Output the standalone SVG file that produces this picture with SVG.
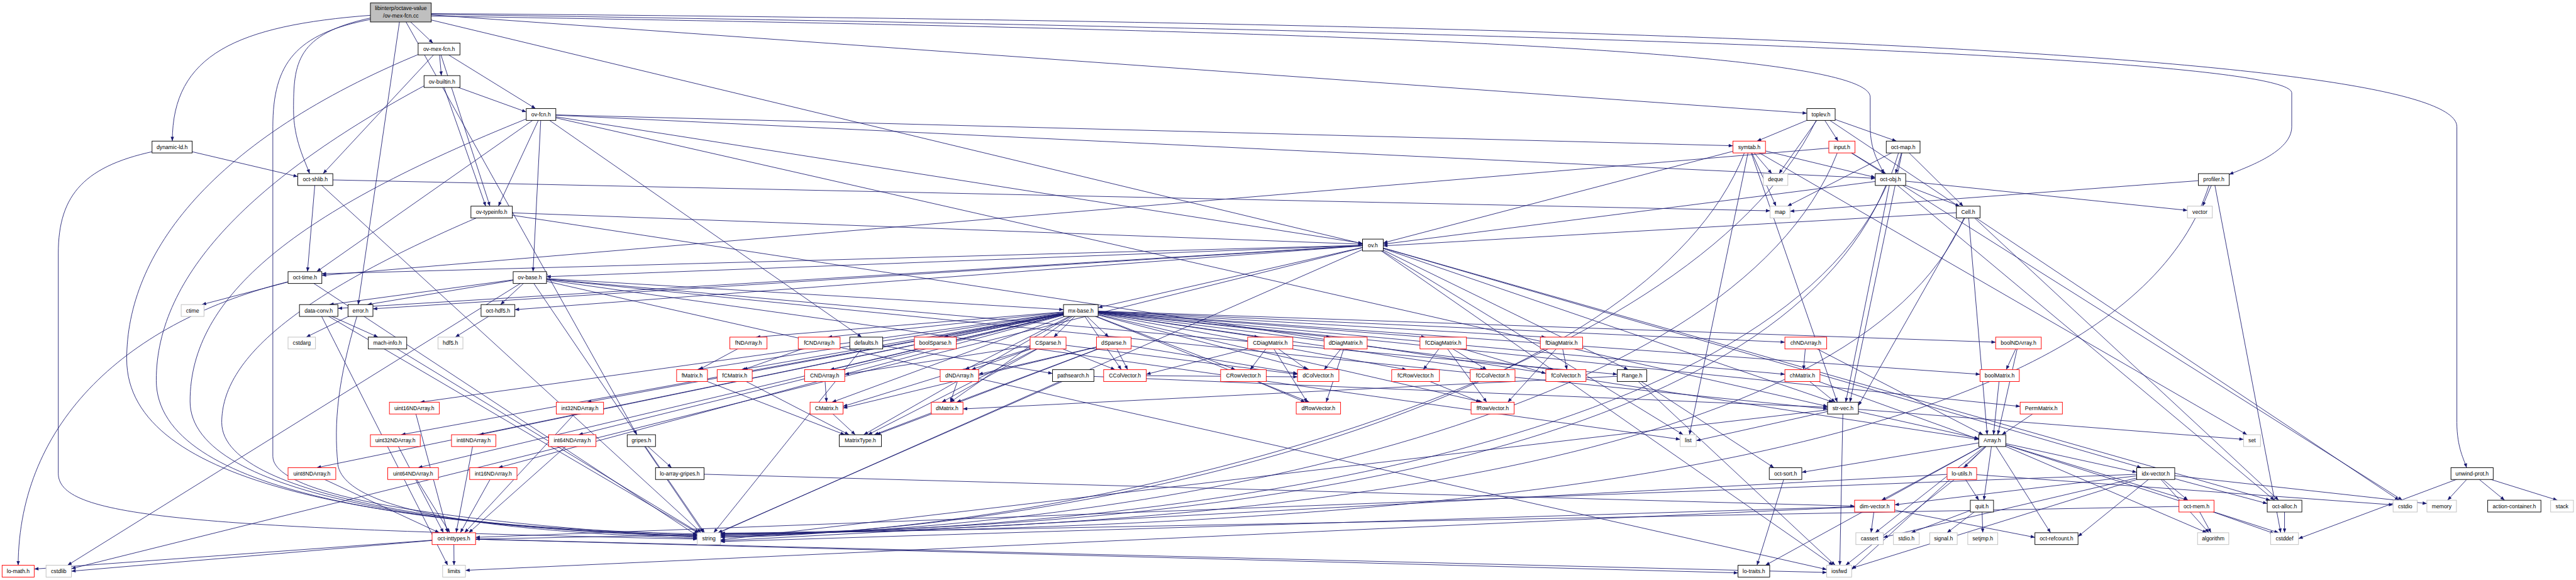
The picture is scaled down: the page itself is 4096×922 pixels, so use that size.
<svg xmlns="http://www.w3.org/2000/svg" width="4096" height="922" viewBox="0 0 4096 922">
<style>
.n rect{fill:#fff;stroke:#000;stroke-width:1.4}
.n.r rect{stroke:#ff0000}
.n.g rect{stroke:#bfbfbf}
#n-root rect{fill:#bfbfbf}
text{font-family:"Liberation Sans",Arial,Helvetica,sans-serif;font-size:13px;text-anchor:middle;fill:#000}
#connectors line,#connectors path{stroke:#191970;stroke-width:1.3;fill:none;marker-end:url(#a)}
</style>
<defs>
<marker id="a" viewBox="0 0 10 8" refX="10" refY="4" markerWidth="11" markerHeight="8" markerUnits="userSpaceOnUse" orient="auto"><path d="M0,0 L10,4 L0,8 z" fill="#191970"/></marker>
</defs>
<rect width="4096" height="922" fill="#fff"/>
<g transform="scale(0.67158)">
<g id="connectors">
<path d="M880,36 C560,60 408,130 408,334"/>
<line x1="949" y1="30" x2="1025" y2="102"/>
<path d="M880,42 C700,80 695,150 695,260 C695,330 722,380 733,411"/>
<line x1="949" y1="30" x2="848" y2="721"/>
<line x1="949" y1="30" x2="1508" y2="1029"/>
<line x1="949" y1="30" x2="3226" y2="577"/>
<path d="M1021,38 C3000,70 4428,110 4428,230 L4428,300 C4428,360 4452,390 4460,411"/>
<line x1="949" y1="30" x2="4278" y2="268"/>
<path d="M1021,34 C3500,70 5426,130 5426,220 L5426,300 C5426,360 5320,395 5278,413"/>
<path d="M1021,32 C4000,55 5817,130 5817,300 L5817,1000 C5817,1060 5835,1090 5840,1107"/>
<path d="M877,46 C700,80 646,150 646,300 L646,1080 C646,1200 1300,1250 1651,1272"/>
<line x1="1039.5" y1="116" x2="1045" y2="179"/>
<line x1="1039.5" y1="116" x2="1268" y2="257"/>
<line x1="1039.5" y1="116" x2="1160" y2="488"/>
<line x1="1039.5" y1="116" x2="765" y2="411"/>
<path d="M1000,125 C500,330 300,600 300,850 C300,1150 900,1245 1651,1264"/>
<line x1="1046.5" y1="193" x2="1246" y2="265"/>
<line x1="1046.5" y1="193" x2="1150" y2="488"/>
<path d="M1010,200 C600,420 370,650 370,900 C370,1170 1000,1250 1651,1266"/>
<line x1="1281" y1="271" x2="1180" y2="488"/>
<line x1="1281" y1="271" x2="1262" y2="643"/>
<line x1="1281" y1="271" x2="750" y2="643"/>
<line x1="1281" y1="271" x2="4103" y2="345"/>
<line x1="1281" y1="271" x2="4440" y2="422"/>
<line x1="1281" y1="271" x2="4327" y2="962"/>
<line x1="1281" y1="271" x2="3226" y2="576"/>
<path d="M1250,280 C700,500 450,700 450,950 C450,1180 1100,1255 1651,1268"/>
<line x1="1281" y1="271" x2="2040" y2="798"/>
<line x1="4311.5" y1="271" x2="4160" y2="334"/>
<line x1="4311.5" y1="271" x2="4212" y2="411"/>
<line x1="4311.5" y1="271" x2="4352" y2="334"/>
<line x1="4311.5" y1="271" x2="4490" y2="334"/>
<path d="M4300,285 C4000,900 2600,1262 1706,1272"/>
<line x1="4311.5" y1="271" x2="5680" y2="1184"/>
<line x1="407.5" y1="348" x2="705" y2="418"/>
<path d="M380,355 C200,390 138,460 138,600 L138,1120 C138,1220 400,1250 1651,1276"/>
<line x1="4141.5" y1="348" x2="4195" y2="411"/>
<line x1="4141.5" y1="348" x2="4205" y2="488"/>
<line x1="4141.5" y1="348" x2="4440" y2="420"/>
<line x1="4141.5" y1="348" x2="3275" y2="575"/>
<line x1="4141.5" y1="348" x2="4350" y2="952"/>
<path d="M4130,362 C3900,950 2600,1260 1706,1270"/>
<line x1="4141.5" y1="348" x2="4000" y2="1029"/>
<line x1="4141.5" y1="348" x2="5320" y2="1029"/>
<line x1="4361" y1="348" x2="4465" y2="411"/>
<line x1="4361" y1="348" x2="762" y2="652"/>
<path d="M4350,362 C4100,1000 2700,1258 1706,1268"/>
<line x1="4361" y1="348" x2="5688" y2="1184"/>
<line x1="4506" y1="348" x2="4488" y2="411"/>
<line x1="4506" y1="348" x2="4232" y2="488"/>
<line x1="4506" y1="348" x2="4648" y2="488"/>
<line x1="4506" y1="348" x2="4380" y2="952"/>
<path d="M4495,362 C4300,1050 2800,1256 1706,1266"/>
<line x1="746.5" y1="425" x2="728" y2="643"/>
<line x1="746.5" y1="425" x2="4191" y2="499"/>
<line x1="746.5" y1="425" x2="1660" y2="1261"/>
<line x1="5241.5" y1="425" x2="5215" y2="488"/>
<line x1="5241.5" y1="425" x2="4238" y2="500"/>
<path d="M5230,439 C5000,1150 3200,1250 1706,1263"/>
<line x1="5241.5" y1="425" x2="5400" y2="1261"/>
<line x1="1164" y1="502" x2="3226" y2="578"/>
<line x1="1164" y1="502" x2="4685" y2="1040"/>
<path d="M1130,515 C700,700 525,850 525,1000 C525,1190 1200,1258 1651,1270"/>
<line x1="4660" y1="502" x2="3275" y2="582"/>
<line x1="4660" y1="502" x2="4705" y2="1029"/>
<line x1="4660" y1="502" x2="4400" y2="960"/>
<line x1="4660" y1="502" x2="5395" y2="1184"/>
<path d="M4650,516 C4400,1100 3000,1252 1706,1264"/>
<line x1="4476" y1="425" x2="4640" y2="488"/>
<line x1="4476" y1="425" x2="3275" y2="578"/>
<path d="M4465,439 C4200,1080 2900,1254 1706,1262"/>
<line x1="4476" y1="425" x2="5179" y2="498"/>
<line x1="4476" y1="425" x2="4370" y2="952"/>
<line x1="4476" y1="425" x2="5385" y2="1184"/>
<line x1="3250.5" y1="580" x2="1294" y2="655"/>
<line x1="3250.5" y1="580" x2="3855" y2="875"/>
<line x1="3250.5" y1="580" x2="2600" y2="728"/>
<line x1="3250.5" y1="580" x2="5070" y2="1107"/>
<line x1="3250.5" y1="580" x2="5375" y2="1184"/>
<line x1="3250.5" y1="580" x2="4340" y2="952"/>
<line x1="3250.5" y1="580" x2="1700" y2="1261"/>
<line x1="3250.5" y1="580" x2="762" y2="648"/>
<line x1="3250.5" y1="580" x2="800" y2="730"/>
<line x1="3250.5" y1="580" x2="1219" y2="733"/>
<line x1="3250.5" y1="580" x2="169" y2="1346"/>
<line x1="3250.5" y1="580" x2="4340" y2="1338"/>
<line x1="3250.5" y1="580" x2="3985" y2="1029"/>
<line x1="3250.5" y1="580" x2="883" y2="731"/>
<line x1="1254.5" y1="657" x2="1185" y2="721"/>
<line x1="1254.5" y1="657" x2="2518" y2="733"/>
<line x1="1254.5" y1="657" x2="780" y2="721"/>
<line x1="1254.5" y1="657" x2="870" y2="721"/>
<line x1="1254.5" y1="657" x2="1665" y2="1261"/>
<line x1="1254.5" y1="657" x2="3829" y2="886"/>
<line x1="1254.5" y1="657" x2="3978" y2="1040"/>
<line x1="1254.5" y1="657" x2="4325" y2="1348"/>
<line x1="1254.5" y1="657" x2="160" y2="1338"/>
<line x1="1254.5" y1="657" x2="4327" y2="968"/>
<line x1="853.5" y1="735" x2="725" y2="798"/>
<path d="M845,749 C800,900 790,1000 800,1100 C820,1230 1300,1262 1651,1274"/>
<line x1="754.5" y1="735" x2="895" y2="798"/>
<line x1="754.5" y1="735" x2="1060" y2="1338"/>
<line x1="754.5" y1="735" x2="1655" y2="1263"/>
<line x1="917.5" y1="812" x2="1655" y2="1261"/>
<line x1="1179" y1="735" x2="1078" y2="798"/>
<line x1="722" y1="657" x2="478" y2="721"/>
<line x1="722" y1="657" x2="1651" y2="1268"/>
<path d="M690,665 C300,760 45,1000 43,1338"/>
<line x1="2559" y1="735" x2="2045" y2="1029"/>
<line x1="2559" y1="735" x2="4688" y2="886"/>
<line x1="2559" y1="735" x2="4725" y2="810"/>
<line x1="2559" y1="735" x2="4226" y2="886"/>
<line x1="2559" y1="735" x2="4226" y2="810"/>
<line x1="2559" y1="735" x2="2655" y2="875"/>
<line x1="2559" y1="735" x2="2925" y2="875"/>
<line x1="2559" y1="735" x2="1970" y2="952"/>
<line x1="2559" y1="735" x2="1965" y2="875"/>
<line x1="2559" y1="735" x2="2980" y2="798"/>
<line x1="2559" y1="735" x2="3100" y2="875"/>
<line x1="2559" y1="735" x2="3100" y2="952"/>
<line x1="2559" y1="735" x2="2250" y2="952"/>
<line x1="2559" y1="735" x2="2285" y2="875"/>
<line x1="2559" y1="735" x2="3150" y2="798"/>
<line x1="2559" y1="735" x2="3680" y2="875"/>
<line x1="2559" y1="735" x2="3510" y2="952"/>
<line x1="2559" y1="735" x2="1650" y2="875"/>
<line x1="2559" y1="735" x2="1790" y2="798"/>
<line x1="2559" y1="735" x2="3660" y2="798"/>
<line x1="2559" y1="735" x2="3515" y2="875"/>
<line x1="2559" y1="735" x2="3330" y2="875"/>
<line x1="2559" y1="735" x2="1755" y2="875"/>
<line x1="2559" y1="735" x2="1960" y2="798"/>
<line x1="2559" y1="735" x2="3375" y2="798"/>
<line x1="2559" y1="735" x2="4783" y2="962"/>
<line x1="2559" y1="735" x2="1135" y2="1029"/>
<line x1="2559" y1="735" x2="1180" y2="1107"/>
<line x1="2559" y1="735" x2="1390" y2="952"/>
<line x1="2559" y1="735" x2="1370" y2="1029"/>
<line x1="2559" y1="735" x2="750" y2="1107"/>
<line x1="2559" y1="735" x2="995" y2="952"/>
<line x1="2559" y1="735" x2="950" y2="1029"/>
<line x1="2559" y1="735" x2="990" y2="1107"/>
<line x1="2559" y1="735" x2="2235" y2="798"/>
<line x1="2559" y1="735" x2="2495" y2="798"/>
<line x1="2559" y1="735" x2="2625" y2="798"/>
<line x1="2051" y1="812" x2="2492" y2="884"/>
<line x1="2051" y1="812" x2="1690" y2="1261"/>
<line x1="2541" y1="889" x2="1700" y2="1262"/>
<line x1="2541" y1="889" x2="4327" y2="964"/>
<line x1="2481.5" y1="812" x2="2640" y2="875"/>
<line x1="2481.5" y1="812" x2="2300" y2="875"/>
<line x1="2481.5" y1="812" x2="2230" y2="952"/>
<line x1="2481.5" y1="812" x2="1996" y2="962"/>
<line x1="2481.5" y1="812" x2="2000" y2="886"/>
<line x1="2481.5" y1="812" x2="2055" y2="1029"/>
<line x1="2481.5" y1="812" x2="3072" y2="886"/>
<line x1="2637" y1="812" x2="2670" y2="875"/>
<line x1="2637" y1="812" x2="2265" y2="952"/>
<line x1="2637" y1="812" x2="2317" y2="886"/>
<line x1="2637" y1="812" x2="2070" y2="1029"/>
<line x1="2637" y1="812" x2="3072" y2="884"/>
<line x1="2637" y1="812" x2="1996" y2="966"/>
<line x1="2271.5" y1="889" x2="2250" y2="952"/>
<line x1="2242.5" y1="966" x2="2075" y2="1029"/>
<line x1="3007.5" y1="812" x2="2714" y2="886"/>
<line x1="3007.5" y1="812" x2="2960" y2="875"/>
<line x1="3007.5" y1="812" x2="3095" y2="952"/>
<line x1="3007.5" y1="812" x2="3095" y2="875"/>
<line x1="3186" y1="812" x2="3135" y2="875"/>
<line x1="3186" y1="812" x2="3140" y2="952"/>
<line x1="3417" y1="812" x2="3370" y2="875"/>
<line x1="3417" y1="812" x2="3520" y2="875"/>
<line x1="3417" y1="812" x2="3660" y2="884"/>
<line x1="3417" y1="812" x2="3520" y2="952"/>
<line x1="3697" y1="812" x2="3710" y2="875"/>
<line x1="3697" y1="812" x2="3570" y2="952"/>
<line x1="3351.5" y1="889" x2="3505" y2="952"/>
<line x1="2944" y1="889" x2="3090" y2="952"/>
<line x1="2663.5" y1="889" x2="3072" y2="892"/>
<line x1="1772" y1="812" x2="1655" y2="875"/>
<line x1="1939.5" y1="812" x2="1760" y2="875"/>
<line x1="1638.5" y1="889" x2="2000" y2="1029"/>
<line x1="1739.5" y1="889" x2="2010" y2="1029"/>
<line x1="1952.5" y1="889" x2="1957" y2="952"/>
<line x1="1957" y1="966" x2="2025" y2="1029"/>
<line x1="4275.5" y1="812" x2="4270" y2="875"/>
<line x1="4275.5" y1="812" x2="4695" y2="1029"/>
<line x1="4267.5" y1="889" x2="4345" y2="952"/>
<line x1="4267.5" y1="889" x2="4685" y2="1040"/>
<line x1="4779" y1="812" x2="4750" y2="875"/>
<line x1="4779" y1="812" x2="4730" y2="1029"/>
<line x1="4734.5" y1="889" x2="4720" y2="1029"/>
<line x1="4833" y1="966" x2="4740" y2="1029"/>
<line x1="1121.5" y1="1043" x2="1080" y2="1261"/>
<line x1="1168" y1="1121" x2="1090" y2="1261"/>
<line x1="1373" y1="966" x2="1100" y2="1261"/>
<line x1="1355" y1="1043" x2="1110" y2="1261"/>
<line x1="738.5" y1="1121" x2="1040" y2="1261"/>
<line x1="981" y1="966" x2="1060" y2="1261"/>
<line x1="936" y1="1043" x2="1050" y2="1261"/>
<line x1="978" y1="1121" x2="1065" y2="1261"/>
<line x1="3864" y1="889" x2="2280" y2="968"/>
<line x1="3864" y1="889" x2="4345" y2="1338"/>
<line x1="3864" y1="889" x2="4200" y2="1107"/>
<line x1="4363.5" y1="966" x2="4016" y2="1043"/>
<line x1="4363.5" y1="966" x2="4685" y2="1038"/>
<line x1="4363.5" y1="966" x2="4356" y2="1338"/>
<line x1="4363.5" y1="966" x2="1706" y2="1278"/>
<line x1="4363.5" y1="966" x2="5312" y2="1040"/>
<line x1="4717" y1="1043" x2="4266" y2="1118"/>
<line x1="4717" y1="1043" x2="4650" y2="1107"/>
<line x1="4717" y1="1043" x2="4455" y2="1184"/>
<line x1="4717" y1="1043" x2="4697" y2="1184"/>
<line x1="4717" y1="1043" x2="4440" y2="1261"/>
<line x1="4717" y1="1043" x2="4384" y2="1348"/>
<line x1="4717" y1="1043" x2="4855" y2="1261"/>
<line x1="4717" y1="1043" x2="4180" y2="1338"/>
<line x1="4717" y1="1043" x2="5059" y2="1118"/>
<line x1="4717" y1="1043" x2="5180" y2="1184"/>
<line x1="4717" y1="1043" x2="5225" y2="1261"/>
<line x1="4717" y1="1043" x2="5395" y2="1261"/>
<line x1="4645" y1="1121" x2="4685" y2="1184"/>
<line x1="4645" y1="1121" x2="1706" y2="1280"/>
<line x1="4645" y1="1121" x2="5666" y2="1195"/>
<line x1="4645" y1="1121" x2="4370" y2="1338"/>
<line x1="4438.5" y1="1198" x2="4430" y2="1261"/>
<line x1="4438.5" y1="1198" x2="4818" y2="1272"/>
<line x1="4438.5" y1="1198" x2="1706" y2="1282"/>
<line x1="4438.5" y1="1198" x2="1102" y2="1350"/>
<line x1="4692.5" y1="1198" x2="4525" y2="1261"/>
<line x1="4692.5" y1="1198" x2="4610" y2="1261"/>
<line x1="4692.5" y1="1198" x2="4694.5" y2="1261"/>
<line x1="4227.5" y1="1121" x2="4160" y2="1338"/>
<line x1="5104" y1="1121" x2="4486" y2="1195"/>
<line x1="5104" y1="1121" x2="5180" y2="1184"/>
<line x1="5104" y1="1121" x2="5368" y2="1192"/>
<line x1="5104" y1="1121" x2="5746" y2="1192"/>
<line x1="5104" y1="1121" x2="5230" y2="1261"/>
<line x1="5104" y1="1121" x2="4384" y2="1345"/>
<line x1="5104" y1="1121" x2="1126" y2="1272"/>
<line x1="5104" y1="1121" x2="4920" y2="1270"/>
<line x1="5104" y1="1121" x2="4459" y2="1272"/>
<line x1="5200.5" y1="1198" x2="5235" y2="1261"/>
<line x1="5200.5" y1="1198" x2="5385" y2="1263"/>
<line x1="5200.5" y1="1198" x2="1126" y2="1276"/>
<line x1="5409" y1="1198" x2="5409" y2="1261"/>
<line x1="5853" y1="1121" x2="5795" y2="1184"/>
<line x1="5853" y1="1121" x2="5930" y2="1184"/>
<line x1="5853" y1="1121" x2="6055" y2="1184"/>
<line x1="5853" y1="1121" x2="5442" y2="1275"/>
<line x1="1074.5" y1="1275" x2="1075" y2="1338"/>
<line x1="1074.5" y1="1275" x2="81" y2="1347"/>
<line x1="1074.5" y1="1275" x2="169" y2="1352"/>
<line x1="1074.5" y1="1275" x2="4325" y2="1355"/>
<line x1="1074.5" y1="1275" x2="4115" y2="1356"/>
<line x1="1518.5" y1="1043" x2="1590" y2="1107"/>
<line x1="1518.5" y1="1043" x2="1668" y2="1261"/>
<line x1="1609.5" y1="1121" x2="4391" y2="1198"/>
</g>
<g id="n-root" class="n"><rect x="877" y="7" width="144" height="45"/><text x="949" y="24">libinterp/octave-value</text><text x="949" y="41">/ov-mex-fcn.cc</text></g>
<g id="n-ovmexh" class="n"><rect x="990" y="102" width="99" height="28"/><text x="1039.5" y="120.5">ov-mex-fcn.h</text></g>
<g id="n-ovbuiltin" class="n"><rect x="1004" y="179" width="85" height="28"/><text x="1046.5" y="197.5">ov-builtin.h</text></g>
<g id="n-ovfcn" class="n"><rect x="1246" y="257" width="70" height="28"/><text x="1281" y="275.5">ov-fcn.h</text></g>
<g id="n-toplev" class="n"><rect x="4278" y="257" width="67" height="28"/><text x="4311.5" y="275.5">toplev.h</text></g>
<g id="n-dynld" class="n"><rect x="360" y="334" width="95" height="28"/><text x="407.5" y="352.5">dynamic-ld.h</text></g>
<g id="n-symtab" class="n r"><rect x="4103" y="334" width="77" height="28"/><text x="4141.5" y="352.5">symtab.h</text></g>
<g id="n-input" class="n r"><rect x="4330" y="334" width="62" height="28"/><text x="4361" y="352.5">input.h</text></g>
<g id="n-octmap" class="n"><rect x="4466" y="334" width="80" height="28"/><text x="4506" y="352.5">oct-map.h</text></g>
<g id="n-octshlib" class="n"><rect x="705" y="411" width="83" height="28"/><text x="746.5" y="429.5">oct-shlib.h</text></g>
<g id="n-deque" class="n g"><rect x="4175" y="411" width="58" height="28"/><text x="4204" y="429.5">deque</text></g>
<g id="n-octobj" class="n"><rect x="4440" y="411" width="72" height="28"/><text x="4476" y="429.5">oct-obj.h</text></g>
<g id="n-profiler" class="n"><rect x="5205" y="411" width="73" height="28"/><text x="5241.5" y="429.5">profiler.h</text></g>
<g id="n-ovtypeinfo" class="n"><rect x="1115" y="488" width="98" height="28"/><text x="1164" y="506.5">ov-typeinfo.h</text></g>
<g id="n-map" class="n g"><rect x="4191" y="488" width="47" height="28"/><text x="4214.5" y="506.5">map</text></g>
<g id="n-cell" class="n"><rect x="4632" y="488" width="56" height="28"/><text x="4660" y="506.5">Cell.h</text></g>
<g id="n-vector" class="n g"><rect x="5179" y="488" width="59" height="28"/><text x="5208.5" y="506.5">vector</text></g>
<g id="n-ovh" class="n"><rect x="3226" y="566" width="49" height="28"/><text x="3250.5" y="584.5">ov.h</text></g>
<g id="n-octtime" class="n"><rect x="682" y="643" width="80" height="28"/><text x="722" y="661.5">oct-time.h</text></g>
<g id="n-ovbase" class="n"><rect x="1215" y="643" width="79" height="28"/><text x="1254.5" y="661.5">ov-base.h</text></g>
<g id="n-ctime" class="n g"><rect x="429" y="721" width="54" height="28"/><text x="456" y="739.5">ctime</text></g>
<g id="n-dataconv" class="n"><rect x="709" y="721" width="91" height="28"/><text x="754.5" y="739.5">data-conv.h</text></g>
<g id="n-error" class="n"><rect x="824" y="721" width="59" height="28"/><text x="853.5" y="739.5">error.h</text></g>
<g id="n-octhdf5" class="n"><rect x="1139" y="721" width="80" height="28"/><text x="1179" y="739.5">oct-hdf5.h</text></g>
<g id="n-mxbase" class="n"><rect x="2518" y="721" width="82" height="28"/><text x="2559" y="739.5">mx-base.h</text></g>
<g id="n-cstdarg" class="n g"><rect x="682" y="798" width="65" height="28"/><text x="714.5" y="816.5">cstdarg</text></g>
<g id="n-machinfo" class="n"><rect x="872" y="798" width="91" height="28"/><text x="917.5" y="816.5">mach-info.h</text></g>
<g id="n-hdf5" class="n g"><rect x="1037" y="798" width="59" height="28"/><text x="1066.5" y="816.5">hdf5.h</text></g>
<g id="n-fNDArray" class="n r"><rect x="1728" y="798" width="88" height="28"/><text x="1772" y="816.5">fNDArray.h</text></g>
<g id="n-fCNDArray" class="n r"><rect x="1890" y="798" width="99" height="28"/><text x="1939.5" y="816.5">fCNDArray.h</text></g>
<g id="n-defaults" class="n"><rect x="2012" y="798" width="78" height="28"/><text x="2051" y="816.5">defaults.h</text></g>
<g id="n-boolSparse" class="n r"><rect x="2165" y="798" width="99" height="28"/><text x="2214.5" y="816.5">boolSparse.h</text></g>
<g id="n-CSparse" class="n r"><rect x="2439" y="798" width="85" height="28"/><text x="2481.5" y="816.5">CSparse.h</text></g>
<g id="n-dSparse" class="n r"><rect x="2596" y="798" width="82" height="28"/><text x="2637" y="816.5">dSparse.h</text></g>
<g id="n-CDiagMatrix" class="n r"><rect x="2954" y="798" width="107" height="28"/><text x="3007.5" y="816.5">CDiagMatrix.h</text></g>
<g id="n-dDiagMatrix" class="n r"><rect x="3135" y="798" width="102" height="28"/><text x="3186" y="816.5">dDiagMatrix.h</text></g>
<g id="n-fCDiagMatrix" class="n r"><rect x="3362" y="798" width="110" height="28"/><text x="3417" y="816.5">fCDiagMatrix.h</text></g>
<g id="n-fDiagMatrix" class="n r"><rect x="3647" y="798" width="100" height="28"/><text x="3697" y="816.5">fDiagMatrix.h</text></g>
<g id="n-chNDArray" class="n r"><rect x="4226" y="798" width="99" height="28"/><text x="4275.5" y="816.5">chNDArray.h</text></g>
<g id="n-boolNDArray" class="n r"><rect x="4725" y="798" width="108" height="28"/><text x="4779" y="816.5">boolNDArray.h</text></g>
<g id="n-fMatrix" class="n r"><rect x="1602" y="875" width="73" height="28"/><text x="1638.5" y="893.5">fMatrix.h</text></g>
<g id="n-fCMatrix" class="n r"><rect x="1698" y="875" width="83" height="28"/><text x="1739.5" y="893.5">fCMatrix.h</text></g>
<g id="n-CNDArray" class="n r"><rect x="1905" y="875" width="95" height="28"/><text x="1952.5" y="893.5">CNDArray.h</text></g>
<g id="n-dNDArray" class="n r"><rect x="2226" y="875" width="91" height="28"/><text x="2271.5" y="893.5">dNDArray.h</text></g>
<g id="n-pathsearch" class="n"><rect x="2492" y="875" width="98" height="28"/><text x="2541" y="893.5">pathsearch.h</text></g>
<g id="n-CColVector" class="n r"><rect x="2613" y="875" width="101" height="28"/><text x="2663.5" y="893.5">CColVector.h</text></g>
<g id="n-CRowVector" class="n r"><rect x="2890" y="875" width="108" height="28"/><text x="2944" y="893.5">CRowVector.h</text></g>
<g id="n-dColVector" class="n r"><rect x="3072" y="875" width="98" height="28"/><text x="3121" y="893.5">dColVector.h</text></g>
<g id="n-fCRowVector" class="n r"><rect x="3295" y="875" width="113" height="28"/><text x="3351.5" y="893.5">fCRowVector.h</text></g>
<g id="n-fCColVector" class="n r"><rect x="3481" y="875" width="106" height="28"/><text x="3534" y="893.5">fCColVector.h</text></g>
<g id="n-fColVector" class="n r"><rect x="3660" y="875" width="95" height="28"/><text x="3707.5" y="893.5">fColVector.h</text></g>
<g id="n-Range" class="n"><rect x="3829" y="875" width="70" height="28"/><text x="3864" y="893.5">Range.h</text></g>
<g id="n-chMatrix" class="n r"><rect x="4226" y="875" width="83" height="28"/><text x="4267.5" y="893.5">chMatrix.h</text></g>
<g id="n-boolMatrix" class="n r"><rect x="4688" y="875" width="93" height="28"/><text x="4734.5" y="893.5">boolMatrix.h</text></g>
<g id="n-uint16" class="n r"><rect x="922" y="952" width="118" height="28"/><text x="981" y="970.5">uint16NDArray.h</text></g>
<g id="n-int32" class="n r"><rect x="1317" y="952" width="112" height="28"/><text x="1373" y="970.5">int32NDArray.h</text></g>
<g id="n-CMatrix" class="n r"><rect x="1918" y="952" width="78" height="28"/><text x="1957" y="970.5">CMatrix.h</text></g>
<g id="n-dMatrix" class="n r"><rect x="2205" y="952" width="75" height="28"/><text x="2242.5" y="970.5">dMatrix.h</text></g>
<g id="n-dRowVector" class="n r"><rect x="3069" y="952" width="105" height="28"/><text x="3121.5" y="970.5">dRowVector.h</text></g>
<g id="n-fRowVector" class="n r"><rect x="3483" y="952" width="102" height="28"/><text x="3534" y="970.5">fRowVector.h</text></g>
<g id="n-strvec" class="n"><rect x="4327" y="952" width="73" height="28"/><text x="4363.5" y="970.5">str-vec.h</text></g>
<g id="n-PermMatrix" class="n r"><rect x="4783" y="952" width="100" height="28"/><text x="4833" y="970.5">PermMatrix.h</text></g>
<g id="n-uint32" class="n r"><rect x="877" y="1029" width="118" height="28"/><text x="936" y="1047.5">uint32NDArray.h</text></g>
<g id="n-int8" class="n r"><rect x="1069" y="1029" width="105" height="28"/><text x="1121.5" y="1047.5">int8NDArray.h</text></g>
<g id="n-int64" class="n r"><rect x="1299" y="1029" width="112" height="28"/><text x="1355" y="1047.5">int64NDArray.h</text></g>
<g id="n-gripes" class="n"><rect x="1485" y="1029" width="67" height="28"/><text x="1518.5" y="1047.5">gripes.h</text></g>
<g id="n-MatrixType" class="n"><rect x="1987" y="1029" width="100" height="28"/><text x="2037" y="1047.5">MatrixType.h</text></g>
<g id="n-list" class="n g"><rect x="3978" y="1029" width="38" height="28"/><text x="3997" y="1047.5">list</text></g>
<g id="n-Array" class="n"><rect x="4685" y="1029" width="64" height="28"/><text x="4717" y="1047.5">Array.h</text></g>
<g id="n-set" class="n g"><rect x="5312" y="1029" width="40" height="28"/><text x="5332" y="1047.5">set</text></g>
<g id="n-uint8" class="n r"><rect x="682" y="1107" width="113" height="28"/><text x="738.5" y="1125.5">uint8NDArray.h</text></g>
<g id="n-uint64" class="n r"><rect x="918" y="1107" width="120" height="28"/><text x="978" y="1125.5">uint64NDArray.h</text></g>
<g id="n-int16" class="n r"><rect x="1112" y="1107" width="112" height="28"/><text x="1168" y="1125.5">int16NDArray.h</text></g>
<g id="n-loarraygripes" class="n"><rect x="1552" y="1107" width="115" height="28"/><text x="1609.5" y="1125.5">lo-array-gripes.h</text></g>
<g id="n-octsort" class="n"><rect x="4189" y="1107" width="77" height="28"/><text x="4227.5" y="1125.5">oct-sort.h</text></g>
<g id="n-loutils" class="n r"><rect x="4610" y="1107" width="70" height="28"/><text x="4645" y="1125.5">lo-utils.h</text></g>
<g id="n-idxvector" class="n"><rect x="5059" y="1107" width="90" height="28"/><text x="5104" y="1125.5">idx-vector.h</text></g>
<g id="n-unwindprot" class="n"><rect x="5803" y="1107" width="100" height="28"/><text x="5853" y="1125.5">unwind-prot.h</text></g>
<g id="n-dimvector" class="n r"><rect x="4391" y="1184" width="95" height="28"/><text x="4438.5" y="1202.5">dim-vector.h</text></g>
<g id="n-quit" class="n"><rect x="4665" y="1184" width="55" height="28"/><text x="4692.5" y="1202.5">quit.h</text></g>
<g id="n-octmem" class="n r"><rect x="5159" y="1184" width="83" height="28"/><text x="5200.5" y="1202.5">oct-mem.h</text></g>
<g id="n-octalloc" class="n"><rect x="5368" y="1184" width="82" height="28"/><text x="5409" y="1202.5">oct-alloc.h</text></g>
<g id="n-cstdio" class="n g"><rect x="5666" y="1184" width="57" height="28"/><text x="5694.5" y="1202.5">cstdio</text></g>
<g id="n-memory" class="n g"><rect x="5746" y="1184" width="70" height="28"/><text x="5781" y="1202.5">memory</text></g>
<g id="n-actioncontainer" class="n"><rect x="5890" y="1184" width="126" height="28"/><text x="5953" y="1202.5">action-container.h</text></g>
<g id="n-stack" class="n g"><rect x="6039" y="1184" width="54" height="28"/><text x="6066" y="1202.5">stack</text></g>
<g id="n-octinttypes" class="n r"><rect x="1023" y="1261" width="103" height="28"/><text x="1074.5" y="1279.5">oct-inttypes.h</text></g>
<g id="n-string" class="n g"><rect x="1651" y="1261" width="55" height="28"/><text x="1678.5" y="1279.5">string</text></g>
<g id="n-cassert" class="n g"><rect x="4394" y="1261" width="65" height="28"/><text x="4426.5" y="1279.5">cassert</text></g>
<g id="n-stdio" class="n g"><rect x="4483" y="1261" width="61" height="28"/><text x="4513.5" y="1279.5">stdio.h</text></g>
<g id="n-signal" class="n g"><rect x="4569" y="1261" width="65" height="28"/><text x="4601.5" y="1279.5">signal.h</text></g>
<g id="n-setjmp" class="n g"><rect x="4659" y="1261" width="71" height="28"/><text x="4694.5" y="1279.5">setjmp.h</text></g>
<g id="n-octrefcount" class="n"><rect x="4818" y="1261" width="102" height="28"/><text x="4869" y="1279.5">oct-refcount.h</text></g>
<g id="n-algorithm" class="n g"><rect x="5203" y="1261" width="74" height="28"/><text x="5240" y="1279.5">algorithm</text></g>
<g id="n-cstddef" class="n g"><rect x="5376" y="1261" width="66" height="28"/><text x="5409" y="1279.5">cstddef</text></g>
<g id="n-lomath" class="n r"><rect x="5" y="1338" width="76" height="28"/><text x="43" y="1356.5">lo-math.h</text></g>
<g id="n-cstdlib" class="n g"><rect x="109" y="1338" width="60" height="28"/><text x="139" y="1356.5">cstdlib</text></g>
<g id="n-limits" class="n g"><rect x="1048" y="1338" width="54" height="28"/><text x="1075" y="1356.5">limits</text></g>
<g id="n-lotraits" class="n"><rect x="4115" y="1338" width="75" height="28"/><text x="4152.5" y="1356.5">lo-traits.h</text></g>
<g id="n-iosfwd" class="n g"><rect x="4325" y="1338" width="59" height="28"/><text x="4354.5" y="1356.5">iosfwd</text></g>
</g>
</svg>
